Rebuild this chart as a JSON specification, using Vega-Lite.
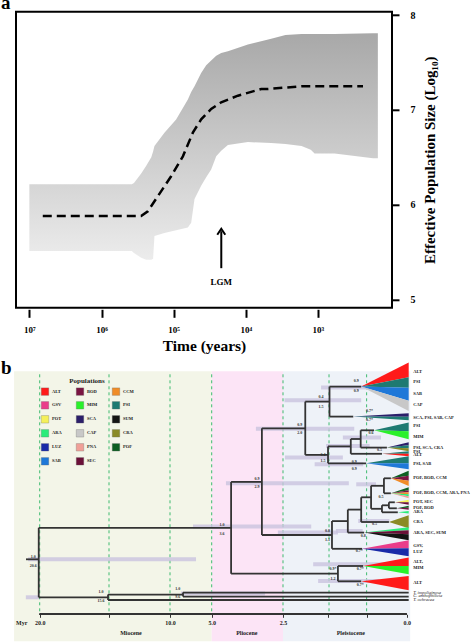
{
  "$schema": "https://vega.github.io/schema/vega-lite/v6.json",
  "background": "white",
  "autosize": {"type": "pad"},
  "padding": {"left": 0, "top": -8.2, "right": 0, "bottom": 0},
  "bounds": "flush",
  "spacing": 63.5,
  "resolve": {"scale": {"color": "independent"}, "legend": {"color": "independent"}},
  "config": {"font": "Liberation Serif", "axis": {"grid": false}},
  "datasets": {
    "band": [
      {"log_years": 7.0, "lower": 5.51, "upper": 6.215},
      {"log_years": 5.58, "lower": 5.51, "upper": 6.215},
      {"log_years": 5.55, "lower": 5.49, "upper": 6.23},
      {"log_years": 5.45, "lower": 5.44, "upper": 6.33},
      {"log_years": 5.38, "lower": 5.42, "upper": 6.41},
      {"log_years": 5.31, "lower": 5.42, "upper": 6.5},
      {"log_years": 5.285, "lower": 5.43, "upper": 6.56},
      {"log_years": 5.266, "lower": 5.67, "upper": 6.62},
      {"log_years": 5.128, "lower": 5.7, "upper": 6.76},
      {"log_years": 4.966, "lower": 5.73, "upper": 6.9},
      {"log_years": 4.803, "lower": 5.76, "upper": 7.11},
      {"log_years": 4.757, "lower": 5.81, "upper": 7.19},
      {"log_years": 4.711, "lower": 6.06, "upper": 7.25},
      {"log_years": 4.619, "lower": 6.2, "upper": 7.39},
      {"log_years": 4.549, "lower": 6.29, "upper": 7.47},
      {"log_years": 4.48, "lower": 6.37, "upper": 7.52},
      {"log_years": 4.41, "lower": 6.51, "upper": 7.57},
      {"log_years": 4.341, "lower": 6.57, "upper": 7.6},
      {"log_years": 4.248, "lower": 6.63, "upper": 7.62},
      {"log_years": 3.971, "lower": 6.66, "upper": 7.69},
      {"log_years": 3.648, "lower": 6.65, "upper": 7.75},
      {"log_years": 3.45, "lower": 6.64, "upper": 7.79},
      {"log_years": 3.228, "lower": 6.62, "upper": 7.8},
      {"log_years": 3.1, "lower": 6.58, "upper": 7.8},
      {"log_years": 3.047, "lower": 6.54, "upper": 7.8},
      {"log_years": 2.77, "lower": 6.54, "upper": 7.8},
      {"log_years": 2.237, "lower": 6.49, "upper": 7.81},
      {"log_years": 2.17, "lower": 6.49, "upper": 7.81}
    ],
    "median": [
      {"log_years": 6.814, "ne": 5.88},
      {"log_years": 5.451, "ne": 5.88},
      {"log_years": 5.358, "ne": 5.93},
      {"log_years": 5.219, "ne": 6.09},
      {"log_years": 5.035, "ne": 6.3},
      {"log_years": 4.872, "ne": 6.51},
      {"log_years": 4.734, "ne": 6.76},
      {"log_years": 4.619, "ne": 6.9},
      {"log_years": 4.48, "ne": 7.01},
      {"log_years": 4.341, "ne": 7.08},
      {"log_years": 4.11, "ne": 7.15},
      {"log_years": 3.786, "ne": 7.22},
      {"log_years": 3.693, "ne": 7.22},
      {"log_years": 3.228, "ne": 7.25},
      {"log_years": 2.77, "ne": 7.25},
      {"log_years": 2.376, "ne": 7.25}
    ],
    "events": [{"event": "LGM", "log_years": 4.34}],
    "epochs": [
      {"epoch": "Miocene", "start": 21.85, "end": 5, "label_myr": 13.2},
      {"epoch": "Pliocene", "start": 5, "end": 2.5, "label_myr": 3.77},
      {"epoch": "Pleistocene", "start": 2.5, "end": -0.07, "label_myr": 1.13}
    ],
    "dashes": [{"myr": 20}, {"myr": 15}, {"myr": 10}, {"myr": 5}, {"myr": 2.5}, {"myr": 1.57}, {"myr": 0.81}],
    "hpd": [
      {"from": 20.84, "to": 6.88, "pos": 188},
      {"from": 21.0, "to": 20.07, "pos": 226},
      {"from": 7.24, "to": 1.93, "pos": 155.3},
      {"from": 4.5, "to": 1.17, "pos": 112},
      {"from": 3.45, "to": 1.06, "pos": 57.5},
      {"from": 2.47, "to": 0.92, "pos": 29},
      {"from": 1.73, "to": 0.44, "pos": 16.3},
      {"from": 1.29, "to": 0.52, "pos": 66.3},
      {"from": 1.63, "to": 0.75, "pos": 74.7},
      {"from": 2.46, "to": 1.29, "pos": 86.3},
      {"from": 1.86, "to": 0.88, "pos": 93},
      {"from": 2.68, "to": 1.39, "pos": 161.3},
      {"from": 1.89, "to": 0.34, "pos": 193},
      {"from": 1.79, "to": 0.55, "pos": 209.7},
      {"from": 8.68, "to": 3.13, "pos": 222.3},
      {"from": 1.02, "to": 0.62, "pos": 113},
      {"from": 1.43, "to": 0.89, "pos": 159.7},
      {"from": 0.98, "to": 0.35, "pos": 149.7}
    ],
    "branches": [
      {"myr_a": 20.07, "myr_b": 20.07, "pos_a": 156.5, "pos_b": 226},
      {"myr_a": 15.07, "myr_b": 15.07, "pos_a": 223.3, "pos_b": 228.7},
      {"myr_a": 8.44, "myr_b": 8.44, "pos_a": 221.3, "pos_b": 225.3},
      {"myr_a": 4.32, "myr_b": 4.32, "pos_a": 110.6, "pos_b": 202.4},
      {"myr_a": 3.24, "myr_b": 3.24, "pos_a": 57, "pos_b": 163.7},
      {"myr_a": 2.05, "myr_b": 2.05, "pos_a": 30.3, "pos_b": 83.6},
      {"myr_a": 1.56, "myr_b": 1.56, "pos_a": 15.3, "pos_b": 45.3},
      {"myr_a": 1.59, "myr_b": 1.59, "pos_a": 75.1, "pos_b": 92},
      {"myr_a": 1.13, "myr_b": 1.13, "pos_a": 67.7, "pos_b": 82.5},
      {"myr_a": 0.93, "myr_b": 0.93, "pos_a": 59, "pos_b": 76.3},
      {"myr_a": 1.51, "myr_b": 1.51, "pos_a": 149.8, "pos_b": 177.5},
      {"myr_a": 1.19, "myr_b": 1.19, "pos_a": 138.3, "pos_b": 161.3},
      {"myr_a": 0.92, "myr_b": 0.92, "pos_a": 126, "pos_b": 150.7},
      {"myr_a": 0.72, "myr_b": 0.72, "pos_a": 114.5, "pos_b": 137.5},
      {"myr_a": 0.46, "myr_b": 0.46, "pos_a": 107, "pos_b": 122},
      {"myr_a": 0.5, "myr_b": 0.5, "pos_a": 134, "pos_b": 141},
      {"myr_a": 0.36, "myr_b": 0.36, "pos_a": 131, "pos_b": 137},
      {"myr_a": 1.39, "myr_b": 1.39, "pos_a": 194.7, "pos_b": 210},
      {"myr_a": 20.99, "myr_b": 20.07, "pos_a": 188, "pos_b": 188},
      {"myr_a": 20.07, "myr_b": 4.32, "pos_a": 156.5, "pos_b": 156.5},
      {"myr_a": 20.07, "myr_b": 15.07, "pos_a": 226, "pos_b": 226},
      {"myr_a": 15.07, "myr_b": 8.44, "pos_a": 223.3, "pos_b": 223.3},
      {"myr_a": 15.07, "myr_b": -0.04, "pos_a": 228.7, "pos_b": 228.7},
      {"myr_a": 8.44, "myr_b": -0.04, "pos_a": 221.3, "pos_b": 221.3},
      {"myr_a": 8.44, "myr_b": -0.04, "pos_a": 225.3, "pos_b": 225.3},
      {"myr_a": 4.32, "myr_b": 3.24, "pos_a": 110.6, "pos_b": 110.6},
      {"myr_a": 4.32, "myr_b": 1.39, "pos_a": 202.4, "pos_b": 202.4},
      {"myr_a": 3.24, "myr_b": 2.05, "pos_a": 57, "pos_b": 57},
      {"myr_a": 3.24, "myr_b": 1.51, "pos_a": 163.7, "pos_b": 163.7},
      {"myr_a": 2.05, "myr_b": 1.56, "pos_a": 30.3, "pos_b": 30.3},
      {"myr_a": 2.05, "myr_b": 1.59, "pos_a": 83.6, "pos_b": 83.6},
      {"myr_a": 1.56, "myr_b": 0.92, "pos_a": 15.3, "pos_b": 15.3},
      {"myr_a": 1.56, "myr_b": 1.08, "pos_a": 45.3, "pos_b": 45.3},
      {"myr_a": 1.59, "myr_b": 1.13, "pos_a": 75.1, "pos_b": 75.1},
      {"myr_a": 1.59, "myr_b": 0.82, "pos_a": 92, "pos_b": 92},
      {"myr_a": 1.13, "myr_b": 0.93, "pos_a": 67.7, "pos_b": 67.7},
      {"myr_a": 1.13, "myr_b": 0.5, "pos_a": 82.5, "pos_b": 82.5},
      {"myr_a": 0.93, "myr_b": 0.66, "pos_a": 59, "pos_b": 59},
      {"myr_a": 0.93, "myr_b": 0.4, "pos_a": 76.3, "pos_b": 76.3},
      {"myr_a": 1.51, "myr_b": 1.19, "pos_a": 149.8, "pos_b": 149.8},
      {"myr_a": 1.51, "myr_b": 0.9, "pos_a": 177.5, "pos_b": 177.5},
      {"myr_a": 1.19, "myr_b": 0.92, "pos_a": 138.3, "pos_b": 138.3},
      {"myr_a": 1.19, "myr_b": 0.86, "pos_a": 161.3, "pos_b": 161.3},
      {"myr_a": 0.92, "myr_b": 0.72, "pos_a": 126, "pos_b": 126},
      {"myr_a": 0.92, "myr_b": 0.36, "pos_a": 150.7, "pos_b": 150.7},
      {"myr_a": 0.72, "myr_b": 0.46, "pos_a": 114.5, "pos_b": 114.5},
      {"myr_a": 0.72, "myr_b": 0.5, "pos_a": 137.5, "pos_b": 137.5},
      {"myr_a": 0.46, "myr_b": 0.32, "pos_a": 107, "pos_b": 107},
      {"myr_a": 0.46, "myr_b": 0.32, "pos_a": 122, "pos_b": 122},
      {"myr_a": 0.5, "myr_b": 0.36, "pos_a": 134, "pos_b": 134},
      {"myr_a": 0.5, "myr_b": 0.18, "pos_a": 141, "pos_b": 141},
      {"myr_a": 0.36, "myr_b": 0.24, "pos_a": 131, "pos_b": 131},
      {"myr_a": 0.36, "myr_b": 0.2, "pos_a": 137, "pos_b": 137},
      {"myr_a": 1.39, "myr_b": 0.88, "pos_a": 194.7, "pos_b": 194.7},
      {"myr_a": 1.39, "myr_b": 0.92, "pos_a": 210, "pos_b": 210}
    ],
    "wedges": [
      {"wedge": "W1a", "pop": "ALT", "myr": 0.92, "lo": 15.3, "hi": 15.3},
      {"wedge": "W1a", "pop": "ALT", "myr": -0.04, "lo": -8.7, "hi": 6},
      {"wedge": "W1b", "pop": "PSI", "myr": 0.92, "lo": 15.3, "hi": 15.3},
      {"wedge": "W1b", "pop": "PSI", "myr": -0.04, "lo": 6, "hi": 16.5},
      {"wedge": "W1c", "pop": "SAB", "myr": 0.92, "lo": 15.3, "hi": 15.3},
      {"wedge": "W1c", "pop": "SAB", "myr": -0.04, "lo": 16.5, "hi": 29.5},
      {"wedge": "W1d", "pop": "CAP", "myr": 0.92, "lo": 15.3, "hi": 15.3},
      {"wedge": "W1d", "pop": "CAP", "myr": -0.04, "lo": 29.5, "hi": 39.7},
      {"wedge": "W2a", "pop": "SCA", "myr": 1.08, "lo": 45.3, "hi": 45.3},
      {"wedge": "W2a", "pop": "SCA", "myr": -0.04, "lo": 42, "hi": 45.5},
      {"wedge": "W2b", "pop": "PSI", "myr": 1.08, "lo": 45.3, "hi": 45.3},
      {"wedge": "W2b", "pop": "PSI", "myr": -0.04, "lo": 45.5, "hi": 49},
      {"wedge": "W3a", "pop": "PSI", "myr": 0.66, "lo": 59, "hi": 59},
      {"wedge": "W3a", "pop": "PSI", "myr": -0.04, "lo": 51.3, "hi": 60},
      {"wedge": "W3b", "pop": "MIM", "myr": 0.66, "lo": 59, "hi": 59},
      {"wedge": "W3b", "pop": "MIM", "myr": -0.04, "lo": 60, "hi": 68},
      {"wedge": "W4a", "pop": "SCA", "myr": 0.4, "lo": 76.3, "hi": 76.3},
      {"wedge": "W4a", "pop": "SCA", "myr": -0.04, "lo": 71, "hi": 74},
      {"wedge": "W4b", "pop": "PSI", "myr": 0.4, "lo": 76.3, "hi": 76.3},
      {"wedge": "W4b", "pop": "PSI", "myr": -0.04, "lo": 74, "hi": 77},
      {"wedge": "W4c", "pop": "CRA", "myr": 0.4, "lo": 76.3, "hi": 76.3},
      {"wedge": "W4c", "pop": "CRA", "myr": -0.04, "lo": 77, "hi": 80},
      {"wedge": "W5a", "pop": "PSI", "myr": 0.5, "lo": 82.5, "hi": 82.5},
      {"wedge": "W5a", "pop": "PSI", "myr": -0.04, "lo": 80, "hi": 82.5},
      {"wedge": "W5b", "pop": "ALT", "myr": 0.5, "lo": 82.5, "hi": 82.5},
      {"wedge": "W5b", "pop": "ALT", "myr": -0.04, "lo": 82.5, "hi": 85},
      {"wedge": "W7a", "pop": "PSI", "myr": 0.82, "lo": 92, "hi": 92},
      {"wedge": "W7a", "pop": "PSI", "myr": -0.04, "lo": 85, "hi": 92},
      {"wedge": "W7b", "pop": "SAB", "myr": 0.82, "lo": 92, "hi": 92},
      {"wedge": "W7b", "pop": "SAB", "myr": -0.04, "lo": 92, "hi": 98},
      {"wedge": "W8a", "pop": "POF", "myr": 0.32, "lo": 107, "hi": 107},
      {"wedge": "W8a", "pop": "POF", "myr": -0.04, "lo": 99.5, "hi": 104.5},
      {"wedge": "W8b", "pop": "BOD", "myr": 0.32, "lo": 107, "hi": 107},
      {"wedge": "W8b", "pop": "BOD", "myr": -0.04, "lo": 104.5, "hi": 109.5},
      {"wedge": "W8c", "pop": "CCM", "myr": 0.32, "lo": 107, "hi": 107},
      {"wedge": "W8c", "pop": "CCM", "myr": -0.04, "lo": 109.5, "hi": 114.7},
      {"wedge": "W9a", "pop": "POF", "myr": 0.32, "lo": 122, "hi": 122},
      {"wedge": "W9a", "pop": "POF", "myr": -0.04, "lo": 116, "hi": 119},
      {"wedge": "W9b", "pop": "BOD", "myr": 0.32, "lo": 122, "hi": 122},
      {"wedge": "W9b", "pop": "BOD", "myr": -0.04, "lo": 119, "hi": 121},
      {"wedge": "W9c", "pop": "CCM", "myr": 0.32, "lo": 122, "hi": 122},
      {"wedge": "W9c", "pop": "CCM", "myr": -0.04, "lo": 121, "hi": 123},
      {"wedge": "W9d", "pop": "ARA", "myr": 0.32, "lo": 122, "hi": 122},
      {"wedge": "W9d", "pop": "ARA", "myr": -0.04, "lo": 123, "hi": 125},
      {"wedge": "W9e", "pop": "PNA", "myr": 0.32, "lo": 122, "hi": 122},
      {"wedge": "W9e", "pop": "PNA", "myr": -0.04, "lo": 125, "hi": 127},
      {"wedge": "W10a", "pop": "POT", "myr": 0.24, "lo": 131, "hi": 131},
      {"wedge": "W10a", "pop": "POT", "myr": -0.04, "lo": 128.5, "hi": 131},
      {"wedge": "W10b", "pop": "SEC", "myr": 0.24, "lo": 131, "hi": 131},
      {"wedge": "W10b", "pop": "SEC", "myr": -0.04, "lo": 131, "hi": 133.5},
      {"wedge": "W10c", "pop": "POF", "myr": 0.2, "lo": 137, "hi": 137},
      {"wedge": "W10c", "pop": "POF", "myr": -0.04, "lo": 134.5, "hi": 136.5},
      {"wedge": "W10d", "pop": "BOD", "myr": 0.2, "lo": 137, "hi": 137},
      {"wedge": "W10d", "pop": "BOD", "myr": -0.04, "lo": 136.5, "hi": 138.5},
      {"wedge": "W11", "pop": "ARA", "myr": 0.18, "lo": 141, "hi": 141},
      {"wedge": "W11", "pop": "ARA", "myr": -0.04, "lo": 139.8, "hi": 142.2},
      {"wedge": "W12", "pop": "CRA", "myr": 0.36, "lo": 150.7, "hi": 150.7},
      {"wedge": "W12", "pop": "CRA", "myr": -0.04, "lo": 144, "hi": 157},
      {"wedge": "W13a", "pop": "ARA", "myr": 0.86, "lo": 161.3, "hi": 161.3},
      {"wedge": "W13a", "pop": "ARA", "myr": -0.04, "lo": 156, "hi": 159},
      {"wedge": "W13b", "pop": "SEC", "myr": 0.86, "lo": 161.3, "hi": 161.3},
      {"wedge": "W13b", "pop": "SEC", "myr": -0.04, "lo": 159, "hi": 163},
      {"wedge": "W13c", "pop": "SUM", "myr": 0.86, "lo": 161.3, "hi": 161.3},
      {"wedge": "W13c", "pop": "SUM", "myr": -0.04, "lo": 163, "hi": 169},
      {"wedge": "W14a", "pop": "GSV", "myr": 0.9, "lo": 177.5, "hi": 177.5},
      {"wedge": "W14a", "pop": "GSV", "myr": -0.04, "lo": 169, "hi": 177},
      {"wedge": "W14b", "pop": "LUZ", "myr": 0.9, "lo": 177.5, "hi": 177.5},
      {"wedge": "W14b", "pop": "LUZ", "myr": -0.04, "lo": 177, "hi": 185},
      {"wedge": "W15a", "pop": "ALT", "myr": 0.88, "lo": 194.7, "hi": 194.7},
      {"wedge": "W15a", "pop": "ALT", "myr": -0.04, "lo": 186.3, "hi": 194.7},
      {"wedge": "W15b", "pop": "MIM", "myr": 0.88, "lo": 194.7, "hi": 194.7},
      {"wedge": "W15b", "pop": "MIM", "myr": -0.04, "lo": 194.7, "hi": 203},
      {"wedge": "W16", "pop": "ALT", "myr": 0.92, "lo": 210, "hi": 210},
      {"wedge": "W16", "pop": "ALT", "myr": -0.04, "lo": 204.7, "hi": 219}
    ],
    "tips": [
      {"label": "ALT", "pos": 0.3, "group": "ingroup"},
      {"label": "PSI", "pos": 10.7, "group": "ingroup"},
      {"label": "SAB", "pos": 22.3, "group": "ingroup"},
      {"label": "CAP", "pos": 33.3, "group": "ingroup"},
      {"label": "SCA, PSI, SAB, CAP", "pos": 46.3, "group": "ingroup"},
      {"label": "PSI", "pos": 54.7, "group": "ingroup"},
      {"label": "MIM", "pos": 65.3, "group": "ingroup"},
      {"label": "PSI, SCA, CRA", "pos": 76.3, "group": "ingroup"},
      {"label": "PSI", "pos": 80.3, "group": "ingroup"},
      {"label": "ALT", "pos": 84, "group": "ingroup"},
      {"label": "PSI, SAB", "pos": 93, "group": "ingroup"},
      {"label": "POF, BOD, CCM", "pos": 107, "group": "ingroup"},
      {"label": "POF, BOD, CCM, ARA, PNA", "pos": 122, "group": "ingroup"},
      {"label": "POT, SEC", "pos": 131, "group": "ingroup"},
      {"label": "POF, BOD", "pos": 137, "group": "ingroup"},
      {"label": "ARA", "pos": 140.5, "group": "ingroup"},
      {"label": "CRA", "pos": 150.7, "group": "ingroup"},
      {"label": "ARA, SEC, SUM", "pos": 161.3, "group": "ingroup"},
      {"label": "GSV,", "pos": 174.7, "group": "ingroup"},
      {"label": "LUZ", "pos": 180.3, "group": "ingroup"},
      {"label": "ALT,", "pos": 190.7, "group": "ingroup"},
      {"label": "MIM", "pos": 196.7, "group": "ingroup"},
      {"label": "ALT", "pos": 211.3, "group": "ingroup"},
      {"label": "T. impoliginosa", "pos": 221.3, "group": "outgroup"},
      {"label": "C. anthophilicia", "pos": 225, "group": "outgroup"},
      {"label": "T. ochracea", "pos": 229, "group": "outgroup"}
    ],
    "support": [
      {"text": "1.0", "myr": 20.46, "pos": 185.7},
      {"text": "20.6", "myr": 20.46, "pos": 195},
      {"text": "1.0", "myr": 15.58, "pos": 221},
      {"text": "15.6", "myr": 15.58, "pos": 229.7},
      {"text": "1.0", "myr": 9.08, "pos": 218},
      {"text": "9.6", "myr": 9.08, "pos": 225.7},
      {"text": "1.0", "myr": 4.64, "pos": 154},
      {"text": "3.6", "myr": 4.64, "pos": 162.3},
      {"text": "0.9", "myr": 3.41, "pos": 108.2},
      {"text": "2.9", "myr": 3.41, "pos": 115.7},
      {"text": "0.9", "myr": 2.16, "pos": 54},
      {"text": "2.0", "myr": 2.16, "pos": 61.3},
      {"text": "0.4", "myr": 1.73, "pos": 25.7},
      {"text": "1.5", "myr": 1.73, "pos": 35.3},
      {"text": "0.9", "myr": 1.02, "pos": 9.7},
      {"text": "0.9", "myr": 1.02, "pos": 19.7},
      {"text": "0.7*", "myr": 0.75, "pos": 39.7},
      {"text": "0.7*", "myr": 0.75, "pos": 48.7},
      {"text": "0.4", "myr": 1.69, "pos": 84},
      {"text": "1.5", "myr": 1.69, "pos": 89.7},
      {"text": "0.6", "myr": 0.72, "pos": 62},
      {"text": "0.5", "myr": 0.55, "pos": 78.7},
      {"text": "0.9", "myr": 1.06, "pos": 90.7},
      {"text": "0.9", "myr": 1.06, "pos": 97.3},
      {"text": "0.5", "myr": 0.52, "pos": 125.3},
      {"text": "0.5", "myr": 0.65, "pos": 152.3},
      {"text": "0.8", "myr": 1.6, "pos": 159.7},
      {"text": "1.1", "myr": 1.6, "pos": 168.7},
      {"text": "0.8", "myr": 0.88, "pos": 164.7},
      {"text": "0.7*", "myr": 0.96, "pos": 179.7},
      {"text": "0.9*", "myr": 1.49, "pos": 197.3},
      {"text": "1.2", "myr": 1.49, "pos": 207.3},
      {"text": "0.7*", "myr": 0.94, "pos": 198},
      {"text": "0.7*", "myr": 0.94, "pos": 214}
    ]
  },
  "vconcat": [
    {
      "width": 376,
      "height": 296,
      "view": {"stroke": "black", "strokeWidth": 2},
      "title": {"text": "a", "anchor": "start", "frame": "group", "dx": -15, "offset": -17.5, "baseline": "alphabetic", "font": "Liberation Serif", "fontSize": 19, "fontWeight": "bold", "color": "black"},
      "layer": [
        {
          "data": {"name": "band"},
          "mark": {"type": "area", "opacity": 1, "color": {"gradient": "linear", "x1": 0, "y1": 0, "x2": 0, "y2": 1, "stops": [{"offset": 0, "color": "#a8a8a8"}, {"offset": 1, "color": "#ececec"}]}},
          "encoding": {
            "x": {"field": "log_years", "type": "quantitative",
              "scale": {"domain": [1.974, 7.185], "reverse": true, "nice": false, "zero": false},
              "axis": {"title": "Time (years)", "values": [3, 4, 5, 6, 7], "offset": 1.5, "domain": false, "tickSize": 8, "tickWidth": 2, "tickColor": "black",
                "labelExpr": "'10' + (datum.value == 7 ? '⁷' : datum.value == 6 ? '⁶' : datum.value == 5 ? '⁵' : datum.value == 4 ? '⁴' : '³')",
                "labelFont": "Liberation Serif", "labelFontWeight": "bold", "labelFontSize": 9, "labelColor": "black", "labelPadding": 8,
                "titleFont": "Liberation Serif", "titleFontWeight": "bold", "titleFontSize": 15.5, "titleColor": "black", "titlePadding": 4}},
            "y": {"field": "lower", "type": "quantitative",
              "scale": {"domain": [4.912, 8.035], "nice": false, "zero": false},
              "axis": {"orient": "right", "title": "Effective Population Size (Log₁₀)", "values": [5, 6, 7, 8], "format": "d", "domain": false, "tickSize": 7, "tickWidth": 2, "tickColor": "black",
                "labelFont": "Liberation Serif", "labelFontWeight": "bold", "labelFontSize": 10, "labelColor": "black", "labelPadding": 11,
                "titleFont": "Liberation Serif", "titleFontWeight": "bold", "titleFontSize": 15, "titleColor": "black", "titleAngle": 270, "titleBaseline": "top", "titlePadding": 8}},
            "y2": {"field": "upper"}
          }
        },
        {
          "data": {"name": "median"},
          "mark": {"type": "line", "color": "black", "strokeWidth": 2.5, "strokeDash": [9, 5]},
          "encoding": {
            "x": {"field": "log_years", "type": "quantitative"},
            "y": {"field": "ne", "type": "quantitative"}
          }
        },
        {
          "data": {"name": "events"},
          "mark": {"type": "rule", "color": "black", "strokeWidth": 2},
          "encoding": {
            "x": {"field": "log_years", "type": "quantitative"},
            "y": {"datum": 5.33, "type": "quantitative"},
            "y2": {"datum": 5.72}
          }
        },
        {
          "data": {"name": "events"},
          "mark": {"type": "point", "shape": "M-1,0.75L0,-0.75L1,0.75", "filled": false, "stroke": "black", "strokeWidth": 2, "size": 64, "opacity": 1},
          "encoding": {
            "x": {"field": "log_years", "type": "quantitative"},
            "y": {"datum": 5.715, "type": "quantitative"}
          }
        },
        {
          "data": {"name": "events"},
          "mark": {"type": "text", "font": "Liberation Serif", "fontWeight": "bold", "fontSize": 9, "color": "black", "baseline": "middle"},
          "encoding": {
            "x": {"field": "log_years", "type": "quantitative"},
            "y": {"datum": 5.18, "type": "quantitative"},
            "text": {"field": "event"}
          }
        }
      ]
    },
    {
      "width": 457,
      "height": 243,
      "view": {"stroke": null},
      "title": {"text": "b", "anchor": "start", "frame": "group", "dx": -15, "offset": -30, "baseline": "alphabetic", "font": "Liberation Serif", "fontSize": 19, "fontWeight": "bold", "color": "black"},
      "layer": [
        {
          "data": {"name": "epochs"},
          "mark": {"type": "rect"},
          "encoding": {
            "x": {"field": "start", "type": "quantitative",
              "scale": {"domain": [-1.4, 0, 2.5, 5, 10, 15, 20, 22], "range": [460, 390.7, 267, 195.7, 154, 93, 23.7, -4], "nice": false, "zero": false},
              "axis": {"title": null, "orient": "bottom", "zindex": 1, "values": [20, 17.5, 15, 12.5, 10, 7.5, 5, 3.75, 2.5, 2, 1.6, 1.2, 0.8, 0.4, 0],
                "labelExpr": "indexof([20, 10, 5, 2.5, 0], datum.value) >= 0 ? format(datum.value, '.1f') : ''",
                "labelOverlap": false, "domain": false, "tickSize": 3, "tickWidth": 1, "tickColor": "#333333",
                "labelFont": "Liberation Serif", "labelFontWeight": "bold", "labelFontSize": 6, "labelColor": "#222222", "labelPadding": 2}},
            "x2": {"field": "end"},
            "y": {"datum": 0, "type": "quantitative", "scale": {"domain": [0, 243], "reverse": true, "nice": false, "zero": false}, "axis": null},
            "y2": {"datum": 270},
            "fill": {"field": "epoch", "type": "nominal", "scale": {"domain": ["Miocene", "Pliocene", "Pleistocene"], "range": ["#f3f5e8", "#fce4f6", "#eef2f8"]}, "legend": null}
          }
        },
        {
          "data": {"name": "dashes"},
          "mark": {"type": "rule", "color": "#3dbb6e", "strokeWidth": 1, "strokeDash": [3, 3]},
          "encoding": {
            "x": {"field": "myr", "type": "quantitative"},
            "y": {"datum": 3, "type": "quantitative"},
            "y2": {"datum": 243}
          }
        },
        {
          "data": {"name": "dashes"},
          "mark": {"type": "rule", "color": "#333333", "strokeWidth": 1.5},
          "encoding": {
            "x": {"datum": 20, "type": "quantitative"},
            "x2": {"datum": 0},
            "y": {"datum": 243, "type": "quantitative"}
          }
        },
        {
          "data": {"name": "hpd"},
          "mark": {"type": "rule", "color": "#c9c3de", "opacity": 0.8, "strokeWidth": 4},
          "encoding": {
            "x": {"field": "from", "type": "quantitative"},
            "x2": {"field": "to"},
            "y": {"field": "pos", "type": "quantitative"}
          }
        },
        {
          "data": {"name": "branches"},
          "mark": {"type": "rule", "color": "#333333", "strokeWidth": 1.8},
          "encoding": {
            "x": {"field": "myr_a", "type": "quantitative"},
            "x2": {"field": "myr_b"},
            "y": {"field": "pos_a", "type": "quantitative"},
            "y2": {"field": "pos_b"}
          }
        },
        {
          "data": {"name": "wedges"},
          "mark": {"type": "area", "opacity": 1},
          "encoding": {
            "x": {"field": "myr", "type": "quantitative"},
            "y": {"field": "lo", "type": "quantitative"},
            "y2": {"field": "hi"},
            "detail": {"field": "wedge"},
            "color": {"field": "pop", "type": "nominal",
              "scale": {"domain": ["ALT", "GSV", "POT", "ARA", "LUZ", "SAB", "BOD", "MIM", "SCA", "CAP", "PNA", "SEC", "CCM", "PSI", "SUM", "CRA", "POF"],
                "range": ["#ff1a1a", "#ea3d8a", "#f5f05a", "#2bec7a", "#1a2aa8", "#1f78d8", "#7a1442", "#2af02a", "#2b1f6a", "#c8c8c8", "#f0a098", "#6b1038", "#f08c28", "#1e7a72", "#141414", "#8a8a26", "#0d5f22"]},
              "legend": {"orient": "none", "legendX": 25, "legendY": 5.5, "columns": 3, "title": "Populations", "titleFont": "Liberation Serif", "titleFontWeight": "bold", "titleFontSize": 7, "titleColor": "#222222", "titleAnchor": "middle", "titlePadding": 3.5,
                "symbolType": "square", "symbolSize": 56, "symbolStrokeWidth": 0.3, "symbolStrokeColor": "#666666", "labelFont": "Liberation Serif", "labelFontWeight": "bold", "labelFontSize": 4.5, "labelColor": "#222222", "labelOffset": 3, "rowPadding": 4, "columnPadding": 13, "padding": 0}}
          }
        },
        {
          "data": {"name": "tips"},
          "transform": [{"filter": "datum.group == 'ingroup'"}],
          "mark": {"type": "text", "align": "left", "baseline": "middle", "dx": 6.5, "font": "Liberation Serif", "fontWeight": "bold", "fontSize": 4.5, "color": "#222222"},
          "encoding": {
            "x": {"datum": 0, "type": "quantitative"},
            "y": {"field": "pos", "type": "quantitative"},
            "text": {"field": "label"}
          }
        },
        {
          "data": {"name": "tips"},
          "transform": [{"filter": "datum.group == 'outgroup'"}],
          "mark": {"type": "text", "align": "left", "baseline": "middle", "dx": 6.5, "font": "Liberation Serif", "fontStyle": "italic", "fontSize": 4.5, "color": "#222222"},
          "encoding": {
            "x": {"datum": 0, "type": "quantitative"},
            "y": {"field": "pos", "type": "quantitative"},
            "text": {"field": "label"}
          }
        },
        {
          "data": {"name": "support"},
          "mark": {"type": "text", "align": "center", "baseline": "middle", "font": "Liberation Serif", "fontWeight": "bold", "fontSize": 4, "color": "#333333"},
          "encoding": {
            "x": {"field": "myr", "type": "quantitative"},
            "y": {"field": "pos", "type": "quantitative"},
            "text": {"field": "text"}
          }
        },
        {
          "data": {"name": "epochs"},
          "mark": {"type": "text", "align": "center", "baseline": "middle", "font": "Liberation Serif", "fontWeight": "bold", "fontSize": 6, "color": "#222222"},
          "encoding": {
            "x": {"field": "label_myr", "type": "quantitative"},
            "y": {"datum": 261.5, "type": "quantitative"},
            "text": {"field": "epoch"}
          }
        },
        {
          "data": {"values": [{"unit": "Myr"}]},
          "mark": {"type": "text", "align": "center", "baseline": "middle", "font": "Liberation Serif", "fontWeight": "bold", "fontSize": 6, "color": "#222222"},
          "encoding": {
            "x": {"datum": 21.3, "type": "quantitative"},
            "y": {"datum": 251.3, "type": "quantitative"},
            "text": {"field": "unit"}
          }
        }
      ]
    }
  ]
}
